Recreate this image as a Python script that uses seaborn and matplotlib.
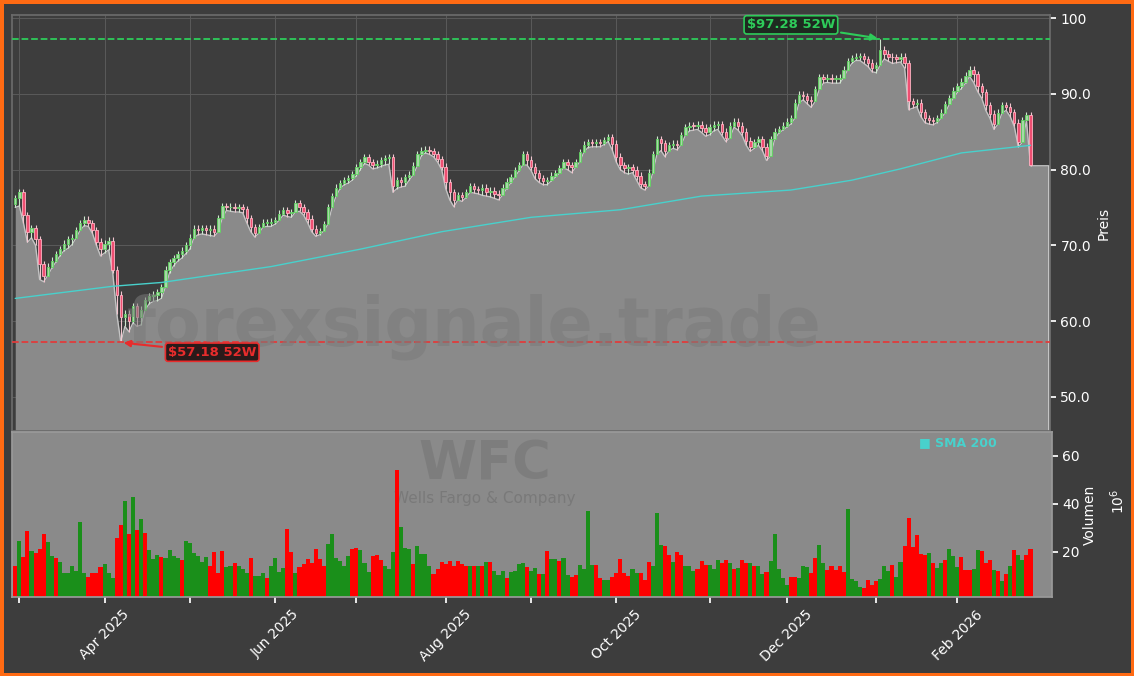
import numpy as np
import pandas as pd
import matplotlib
matplotlib.use("Agg")
import matplotlib.pyplot as plt
import seaborn as sns

# ---------------- data ----------------
holidays = ["2025-04-18", "2025-05-26", "2025-06-19", "2025-07-04", "2025-09-01",
            "2025-11-27", "2025-12-25", "2026-01-01", "2026-01-19", "2026-02-16"]
start_date, end_date = "2025-02-28", "2026-02-27"

lows = [75.0, 75.2, 73.0, 70.4, 71.0, 70.0, 65.5, 65.2, 66.3, 67.0,
        67.8, 68.6, 69.3, 69.6, 70.1, 71.0, 72.0, 72.6, 72.5, 71.6,
        70.0, 68.6, 69.0, 69.4, 66.4, 61.0, 57.18, 59.3, 58.6, 59.8,
        59.3, 59.5, 61.8, 62.3, 62.6, 62.7, 63.0, 65.2, 66.4, 67.3,
        67.9, 68.3, 68.9, 69.5, 71.0, 71.4, 71.5, 71.4, 71.3, 71.2,
        72.5, 74.5, 74.6, 74.5, 74.4, 74.4, 74.3, 73.0, 71.8, 71.1,
        71.7, 72.4, 72.5, 72.5, 72.8, 73.6, 74.0, 73.8, 73.7, 75.0,
        74.5, 74.0, 73.0, 71.8, 71.2, 71.4, 72.2, 73.8, 75.6, 76.8,
        77.5, 78.0, 78.2, 78.6, 79.2, 80.0, 80.8, 80.6, 80.1, 80.2,
        80.4, 80.6, 80.7, 77.0, 77.5, 77.7, 77.8, 78.6, 79.3, 80.8,
        81.8, 82.2, 82.0, 81.7, 81.0, 80.0, 77.5, 76.0, 75.1, 76.0,
        75.8, 76.3, 77.0, 76.9, 76.8, 76.6, 76.5, 76.4, 76.2, 76.0,
        76.8, 77.5, 78.2, 79.0, 79.8, 81.0, 80.6, 79.9, 78.8, 78.3,
        78.0, 78.0, 78.5, 79.0, 79.6, 80.4, 80.0, 79.6, 80.3, 81.4,
        82.3, 82.9, 83.0, 83.0, 83.0, 83.3, 83.7, 82.6, 81.0, 80.0,
        79.6, 79.4, 79.6, 78.6, 77.6, 77.3, 78.6, 80.2, 82.8, 82.5,
        81.7, 82.6, 82.8, 82.6, 83.5, 84.6, 85.1, 85.2, 85.3, 84.9,
        84.4, 84.6, 85.1, 85.3, 84.5, 83.7, 84.9, 85.6, 85.2, 84.5,
        83.2, 82.4, 82.8, 83.2, 82.5, 81.2, 83.0, 84.4, 84.8, 85.2,
        85.6, 86.0, 87.5, 89.2, 89.2, 88.7, 88.2, 89.5, 91.2, 91.4,
        91.5, 91.4, 91.4, 91.4, 92.4, 93.6, 94.0, 94.4, 94.4, 94.0,
        93.6, 92.9, 92.8, 94.9, 94.6, 94.3, 94.0, 94.1, 94.2, 93.4,
        87.9, 88.1, 88.3, 87.0, 86.2, 86.0, 85.9, 86.2, 86.8, 87.8,
        88.6, 89.5, 90.2, 90.7, 91.4, 92.3, 91.5, 90.3, 89.4, 87.8,
        86.8, 85.3, 86.5, 87.9, 87.8, 87.0, 85.7, 83.0, 85.7, 86.8,
        80.5]

closes = [76.2, 77.0, 74.0, 71.8, 72.3, 70.8, 67.5, 66.0, 67.2, 68.0,
          68.8, 69.5, 70.2, 70.8, 71.0, 72.0, 72.9, 73.4, 72.9, 72.0,
          70.5, 69.5, 70.2, 70.6, 66.8, 63.5, 60.5, 61.0, 60.0, 62.0,
          60.5, 61.5, 62.8, 63.3, 63.5, 63.8, 64.5, 66.8, 67.8, 68.3,
          68.8, 69.3, 70.0, 71.0, 72.2, 72.0, 72.3, 72.0, 72.2, 71.8,
          73.6, 75.2, 75.0, 75.1, 74.9, 75.0, 74.8, 73.6, 72.4, 71.6,
          72.4, 73.0, 73.0, 73.1, 73.3, 74.2, 74.6, 74.3, 74.4, 75.6,
          75.0, 74.4, 73.5, 72.2, 71.6, 71.9, 72.8, 75.0, 76.5, 77.6,
          78.2, 78.6, 78.9, 79.4, 80.3, 81.0, 81.6, 81.0, 80.6, 80.8,
          81.2, 81.5, 81.6, 77.8, 78.6, 78.3, 79.0, 79.3, 80.5, 82.0,
          82.5, 82.6, 82.4, 82.0, 81.4, 80.4, 78.3, 77.0, 76.0, 76.6,
          76.4, 77.0, 77.8, 77.4, 77.3, 77.6, 77.0, 77.2, 76.8, 76.6,
          77.6, 78.4, 79.0, 79.9, 80.6, 82.0, 81.3, 80.4, 79.5, 78.9,
          78.5, 78.6, 79.2, 79.5, 80.2, 81.0, 80.6, 80.4, 81.0, 82.3,
          83.3, 83.6, 83.5, 83.6, 83.5, 83.9, 84.3, 83.4, 81.7, 80.6,
          80.2, 80.3, 80.0, 79.2, 78.1, 77.8, 79.6, 82.0, 84.0, 83.5,
          82.5, 83.2, 83.4, 83.3, 84.5, 85.6, 85.8, 85.7, 85.9, 85.5,
          85.0, 85.6, 85.9, 86.0, 85.0, 84.2, 85.8, 86.3, 85.8, 85.0,
          83.8, 83.0, 83.6, 84.0, 83.0, 81.8, 84.0, 85.0, 85.3, 85.8,
          86.3, 86.8, 88.8, 89.9, 89.7, 89.2, 89.0, 90.6, 92.2, 92.0,
          92.1, 91.9, 92.0, 92.1, 93.2, 94.3, 94.7, 94.9, 95.0, 94.6,
          94.1, 93.4, 93.8, 95.8, 95.3, 94.9, 94.8, 94.6, 94.9, 94.0,
          89.0, 88.7, 88.8, 87.6, 86.8, 86.5, 86.4, 86.8, 87.5, 88.6,
          89.4, 90.4, 91.0, 91.6, 92.4, 93.2, 92.6, 91.0, 90.2, 88.5,
          87.4, 86.0, 87.5, 88.5, 88.3, 87.6, 86.2, 83.6, 86.5, 87.2,
          80.6]
first_open = 75.4
peak_bar, peak_high = 213, 97.28

volumes = [14, 24.6, 18, 28.6, 20.5, 19.7, 21.4, 27.6, 24.3, 18.4,
           17.6, 16, 11.2, 11, 14.3, 12, 32.6, 11, 9.6, 11.3,
           11, 13.9, 15, 11, 9.3, 26, 31.3, 41.4, 27.6, 43,
           29.3, 33.9, 28, 20.8, 17.2, 18.6, 18, 17.5, 20.8, 18.4,
           17.5, 16.8, 24.6, 23.6, 19.4, 18.3, 15.8, 18, 14.3, 20,
           11.3, 20.5, 13.9, 14.3, 15.2, 14.3, 12.9, 11, 17.6, 10,
           9.9, 11.3, 9.2, 14.2, 17.5, 11.8, 13.5, 29.7, 20, 11.3,
           13.9, 15, 16.9, 15.3, 21.4, 16.9, 14.3, 23.3, 27.6, 17.5,
           16.4, 14, 18.4, 21.4, 21.7, 20.8, 15.2, 11.8, 18.3, 18.6,
           16.5, 14.3, 12.9, 20, 54, 30.4, 21.7, 21.2, 15, 22.5,
           19, 19, 14.3, 10.7, 12.9, 15.6, 15, 16.2, 14.2, 16.2,
           15, 14.2, 14.3, 14.3, 14.3, 14.3, 16, 15.6, 12, 10.4,
           12, 9.2, 11.8,
           12.2, 15, 15.3, 13.6, 12.1, 13.2, 10.7, 10.7, 20.5, 17.2,
           17.2, 16.3, 17.5, 10.3, 9.4, 10.3, 14.6, 12.8, 37, 14.4,
           14.4, 9.2, 8.3, 8.3, 9.4, 11, 17.2, 11, 9.9, 12.8,
           11, 11, 8.3, 15.8, 14.2, 36.4, 23, 22.5, 18.8, 16,
           19.9, 18.8, 14, 14, 12, 12.8, 16.3, 14.6, 14.6, 12.8,
           16.7, 15.3, 16.7, 15.3, 12.8, 13.5, 16.7, 15.3, 15.3, 14.2,
           14.2, 10.8, 11.8, 16.3, 27.5, 12.8, 9, 6.3, 9.6, 9.6,
           9.2, 14.2, 13.6, 11,
           17.3, 22.7, 15.4, 12.6, 14, 12.6, 14.2, 11.5, 38, 8.9,
           8, 5.5, 4.8, 8.3, 6.2, 8, 8.9, 14, 11.9, 14.4,
           9.7, 15.8, 22.4, 34, 22, 27.2, 19.3, 18.6, 19.6, 15.3,
           13.3, 15.3, 16.5, 21.3, 18.5, 13.9, 18, 12.3, 12.6, 13,
           20.6, 20.2, 15.4, 16.8, 12.6, 12.2, 8, 10.6, 14, 20.6,
           18.9, 16.8, 18.9, 21.4]
vol_dir = ("rgrrgrrrgg" "rgggggggrr" "rrgggrrgrg" "rgrgggrggg" "grggggggrr"
           "rrggrgggrg" "ggrggggrrg" "rrrrrrrggg" "gggrrgggrr" "rgggrgggrg"
           "gggrrrrrrr" "rrgrgrgrgg" "grg"
           "gggrggrgrg" "grggrrgggg" "rrggrrrrrg" "grrrgggrrg"
           "rrgggrrrgg" "grrgrgrrgr" "ggrgggggrr" "gggr"
           "rggrrrrrgg" "ggrrrrgggr" "ggrrrrrrgr" "ggrgggrrrg"
           "grrrgrgrgr" "ggrr")

sma_idx = [0, 24, 36, 63, 85, 105, 127, 149, 169, 191, 206, 218, 233, 250]
sma_val = [63.0, 64.6, 65.1, 67.2, 69.5, 71.8, 73.7, 74.7, 76.5, 77.3, 78.6, 80.1, 82.2, 83.2]

# ---------------- prep ----------------
cbd = pd.offsets.CustomBusinessDay(holidays=holidays)
dates = pd.date_range(start_date, end_date, freq=cbd)
n = min(len(dates), len(closes), len(lows), len(volumes))
dates = dates[:n]
closes = np.array(closes[:n]); lows = np.array(lows[:n])
opens = np.concatenate([[first_open], closes[:-1]])
highs = np.maximum(opens, closes) + 0.45
highs[peak_bar] = peak_high
lows = np.minimum(lows, np.minimum(opens, closes))
vdirs = (vol_dir + "g" * n)[:n]
x = np.arange(n)

BG = "#3d3d3d"
FILL = "#8a8a8a"
TEAL = "#48d1cc"

sns.set_theme(style="dark")
plt.rcParams["font.family"] = ["DejaVu Sans"]

fig = plt.figure(figsize=(11.34, 6.76), dpi=100)
fig.patch.set_facecolor(BG)
fig.patch.set_edgecolor("#ff6a13")
fig.patch.set_linewidth(5)

W, H = 1134, 676
axp = fig.add_axes([12 / W, 1 - 431 / H, (1050 - 12) / W, (431 - 15) / H])
axv = fig.add_axes([12 / W, 1 - 597 / H, (1052 - 12) / W, (597 - 432) / H])

xmin, xmax = -0.8, 254.8
# ---- price panel ----
axp.set_facecolor(BG)
for s in axp.spines.values():
    s.set_color("#6a6a6a")
axp.set_xlim(xmin, xmax)
axp.set_ylim(45.5, 100.4)
fx = np.concatenate([x, [xmax]])
fy = np.concatenate([lows, [lows[-1]]])
axp.fill_between(fx, fy, 45.5, color=FILL, zorder=1, lw=0)
sns.lineplot(x=fx, y=fy, ax=axp, color="#c4c4c4", lw=1, zorder=2)
axp.vlines(xmax - 0.3, 45.5, lows[-1], color="#d0d0d0", lw=1.2, zorder=2)

for i in range(n):
    up = closes[i] >= opens[i]
    face = "#a8d8a8" if up else "#ee4f72"
    edge = "#5fd35f" if up else "#ffb3c3"
    wick = "#cfe9cf" if up else "#f2c6cf"
    axp.vlines(i, lows[i], highs[i], color=wick, lw=0.8, zorder=3)
    lo, hi = min(opens[i], closes[i]), max(opens[i], closes[i])
    axp.add_patch(plt.Rectangle((i - 0.3, lo), 0.6, max(hi - lo, 0.12),
                                facecolor=face, edgecolor=edge, lw=0.6, zorder=4))

sns.lineplot(x=sma_idx, y=sma_val, ax=axp, color=TEAL, lw=1, zorder=5)

hi52, lo52 = highs.max(), lows.min()
hi_i, lo_i = int(highs.argmax()), int(lows.argmin())
axp.axhline(hi52, color="#2ecc5a", ls="--", lw=1.3, zorder=6)
axp.axhline(lo52, color="#e03c3c", ls="--", lw=1.3, zorder=6)
axp.annotate(f"${hi52:.2f} 52W", xy=(hi_i, hi52), xytext=(191, 99.1),
             color="#2ecc5a", fontsize=9.5, fontweight="bold", ha="center", va="center",
             bbox=dict(boxstyle="round,pad=0.2", fc="#1e2a20", ec="#2ecc5a", lw=1.2),
             arrowprops=dict(arrowstyle="-|>", color="#2ecc5a", lw=1.5), zorder=8)
axp.annotate(f"${lo52:.2f} 52W", xy=(lo_i, lo52), xytext=(48.5, 55.9),
             color="#e82c2c", fontsize=9.5, fontweight="bold", ha="center", va="center",
             bbox=dict(boxstyle="round,pad=0.2", fc="#2a1a1a", ec="#e82c2c", lw=1.2),
             arrowprops=dict(arrowstyle="-|>", color="#e82c2c", lw=1.5), zorder=8)

axp.text(0.445, 0.25, "forexsignale.trade", transform=axp.transAxes, fontsize=48,
         fontweight="bold", color="#7a7a7a", alpha=0.55, ha="center", va="center", zorder=7)

yt = [50, 60, 70, 80, 90, 100]
axp.set_yticks(yt)
axp.set_yticklabels(["50.0", "60.0", "70.0", "80.0", "90.0", "100"])
axp.yaxis.tick_right()
axp.yaxis.set_label_position("right")
axp.set_ylabel("Preis", color="white", fontsize=10)
axp.tick_params(axis="y", colors="white", labelsize=10, length=4, right=True)

mstarts = sorted(set([1] + [i for i in range(1, n) if dates[i].month != dates[i - 1].month]))
axp.set_xticks(mstarts)
axp.set_xticklabels([])
axp.tick_params(axis="x", length=0)
axp.grid(True, color="#5a5a5a", lw=0.7, zorder=0)

# ---- volume panel ----
axv.set_facecolor(FILL)
for s in axv.spines.values():
    s.set_color("#9a9a9a")
axv.set_xlim(xmin, xmax + 0.5)
axv.set_ylim(1.2, 70)
cols = ["#1a8f1a" if d == "g" else "#ff0000" for d in vdirs]
axv.bar(x, volumes[:n], width=1.0, color=cols, lw=0, zorder=2)
axv.set_yticks([20, 40, 60])
axv.yaxis.tick_right()
axv.yaxis.set_label_position("right")
axv.set_ylabel("Volumen", color="white", fontsize=10, labelpad=2)
axv.text(1.063, 0.58, r"$10^6$", transform=axv.transAxes, rotation=90, color="white",
         fontsize=10, ha="center", va="center")
axv.tick_params(axis="y", colors="white", labelsize=10, length=4, right=True)
axv.set_xticks(mstarts)
labs = [dates[i].strftime("%b %Y") if dates[i].month % 2 == 0 else "" for i in mstarts]
axv.set_xticklabels(labs, rotation=45, ha="center", color="white", fontsize=10)
axv.tick_params(axis="x", colors="white", length=4, bottom=True)
axv.grid(False)
axv.text(0.455, 0.8, "WFC", transform=axv.transAxes, fontsize=38, fontweight="bold",
         color="#6e6e6e", alpha=0.45, ha="center", va="center", zorder=1)
axv.text(0.455, 0.6, "Wells Fargo & Company", transform=axv.transAxes, fontsize=11,
         color="#6e6e6e", alpha=0.6, ha="center", va="center", zorder=1)
axv.text(0.872, 0.935, "■ SMA 200", transform=axv.transAxes, fontsize=9, fontweight="bold",
         color=TEAL, ha="left", va="center", zorder=5)

fig.savefig("out.png", dpi=100, facecolor=fig.get_facecolor(), edgecolor=fig.get_edgecolor())
